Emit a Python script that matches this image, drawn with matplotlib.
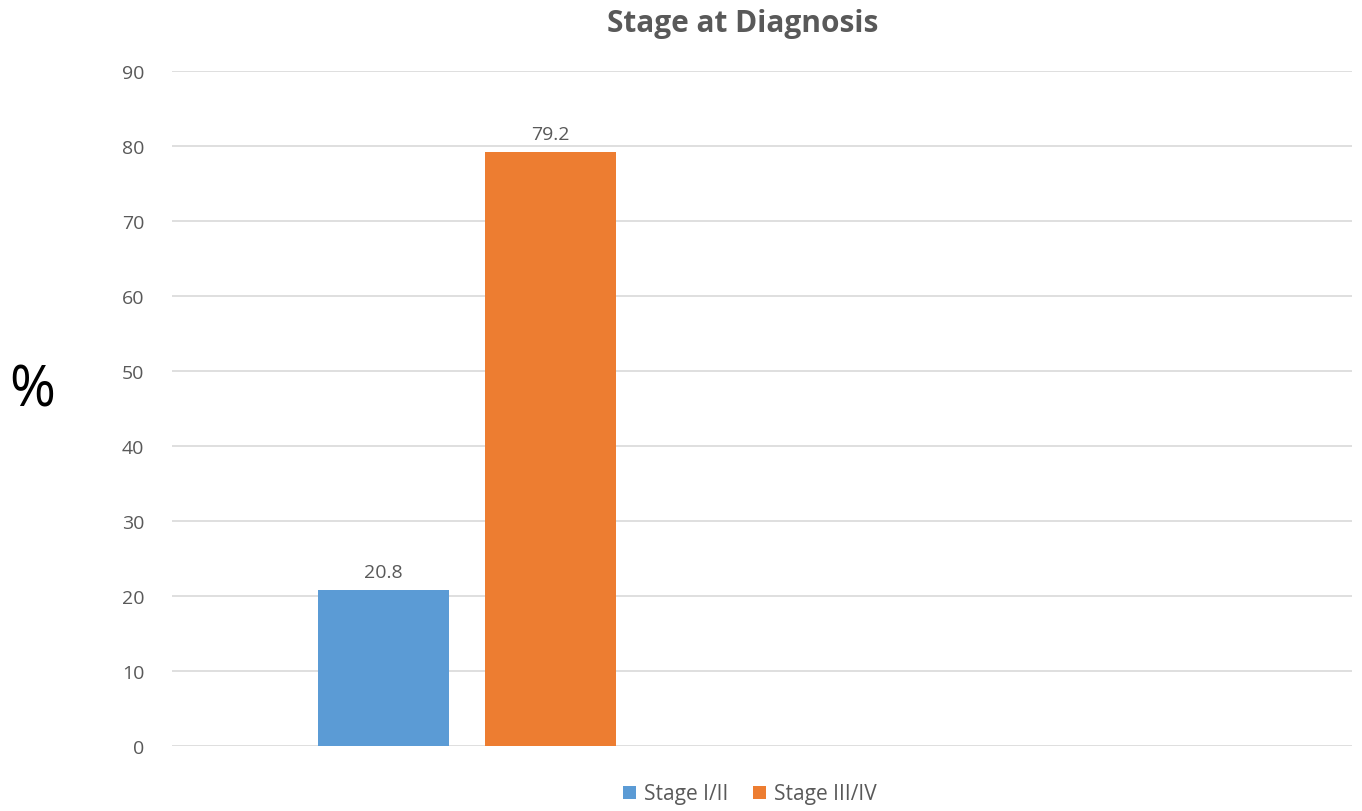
import matplotlib
matplotlib.use("Agg")
import matplotlib.pyplot as plt
from matplotlib.patches import Patch

# Data
series_names = ["Stage I/II", "Stage III/IV"]
series_values = [20.8, 79.2]
series_colors = ["#5B9BD5", "#ED7D31"]
y_ticks = [0, 10, 20, 30, 40, 50, 60, 70, 80, 90]

plt.rcParams["font.family"] = ["Open Sans", "DejaVu Sans"]
text_gray = "#595959"

W, H = 1362, 812
fig = plt.figure(figsize=(W / 100, H / 100), dpi=100)
ax = fig.add_axes([172 / W, (H - 747) / H, (1352 - 172) / W, (747 - 72) / H])

# two category slots; the first one holds both series
ax.set_xlim(0, 2)
ax.set_ylim(0, 90)
bar_w = 0.222
offsets = [-0.142, 0.142]
center = 0.5
for name, val, col, off in zip(series_names, series_values, series_colors, offsets):
    ax.bar(center + off, val, width=bar_w, color=col, zorder=3, label=name)
    ax.text(center + off, val + 1.2, f"{val:.1f}", ha="center", va="bottom",
            fontsize=14, color=text_gray)

ax.set_yticks(y_ticks)
ax.set_yticklabels([str(t) for t in y_ticks], fontsize=14, color=text_gray)
ax.tick_params(axis="y", length=0, pad=20)
ax.set_xticks([])
ax.grid(axis="y", color="#D9D9D9", linewidth=1.2, zorder=0)
for s in ax.spines.values():
    s.set_visible(False)

fig.text(743 / W, 1 - 24 / H, "Stage at Diagnosis", ha="center", va="center",
         fontsize=21.5, fontweight="bold", color=text_gray)
fig.text(32 / W, 1 - 392 / H, "%", ha="center", va="center", fontsize=40, color="black")

handles = [Patch(facecolor=c, label=n) for n, c in zip(series_names, series_colors)]
fig.legend(handles=handles, loc="center", bbox_to_anchor=(750 / W, 1 - 795 / H),
           ncol=2, frameon=False, fontsize=15, labelcolor=text_gray,
           handlelength=0.6, handleheight=0.6, handletextpad=0.4, columnspacing=1.2)

fig.savefig("out.png", dpi=100)
